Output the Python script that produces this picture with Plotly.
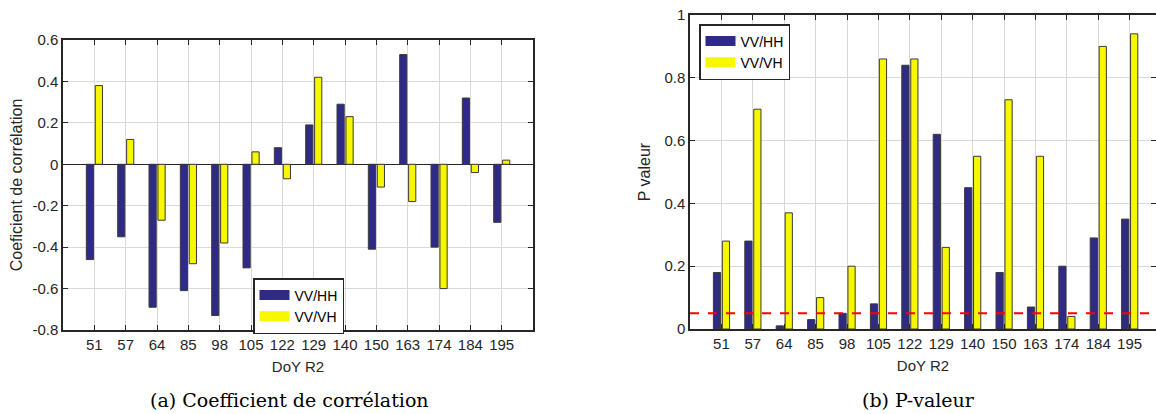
import plotly.graph_objects as go

# ---- data ----
doy = ["51", "57", "64", "85", "98", "105", "122", "129", "140", "150", "163", "174", "184", "195"]
corr_vv_hh = [-0.46, -0.35, -0.69, -0.61, -0.73, -0.50, 0.08, 0.19, 0.29, -0.41, 0.53, -0.40, 0.32, -0.28]
corr_vv_vh = [0.38, 0.12, -0.27, -0.48, -0.38, 0.06, -0.07, 0.42, 0.23, -0.11, -0.18, -0.60, -0.04, 0.02]
p_vv_hh = [0.18, 0.28, 0.01, 0.03, 0.05, 0.08, 0.84, 0.62, 0.45, 0.18, 0.07, 0.20, 0.29, 0.35]
p_vv_vh = [0.28, 0.70, 0.37, 0.10, 0.20, 0.86, 0.86, 0.26, 0.55, 0.73, 0.55, 0.04, 0.90, 0.94]
p_threshold = 0.05
series_names = ["VV/HH", "VV/VH"]
corr_ticks = [-0.8, -0.6, -0.4, -0.2, 0, 0.2, 0.4, 0.6]
corr_ticktext = ["-0.8", "-0.6", "-0.4", "-0.2", "0", "0.2", "0.4", "0.6"]
p_ticks = [0, 0.2, 0.4, 0.6, 0.8, 1]
p_ticktext = ["0", "0.2", "0.4", "0.6", "0.8", "1"]
x_title = "DoY R2"
y_title_left = "Coeficient de corrélation"
y_title_right = "P valeur"
caption_left = "(a) Coefficient de corrélation"
caption_right = "(b) P-valeur"

pos = list(range(1, len(doy) + 1))
BLUE = "#2e2a86"
YELLOW = "#f7f700"
EDGE = "#3a3a3a"
AXC = "#262626"
GRID = "#d9d9d9"
FONT = "Liberation Sans"
colors = [BLUE, YELLOW]

fig = go.Figure()

def add_bars(xa, ya, v1, v2, legend):
    fig.add_trace(go.Bar(x=pos, y=v1, name=series_names[0], width=0.23, offset=-0.255,
                         marker=dict(color=BLUE, line=dict(color=EDGE, width=1)),
                         xaxis=xa, yaxis=ya, showlegend=False))
    fig.add_trace(go.Bar(x=pos, y=v2, name=series_names[1], width=0.23, offset=0.03,
                         marker=dict(color=YELLOW, line=dict(color=EDGE, width=1)),
                         xaxis=xa, yaxis=ya, showlegend=False))
    # legend-only entries with wide rectangular swatches
    for name, c in zip(series_names, colors):
        fig.add_trace(go.Scatter(x=[None], y=[None], mode="lines", name=name,
                                 line=dict(color=c, width=13),
                                 xaxis=xa, yaxis=ya, legend=legend))

add_bars("x", "y", corr_vv_hh, corr_vv_vh, "legend")
add_bars("x2", "y2", p_vv_hh, p_vv_vh, "legend2")

W, H = 1156, 414
def px_x(v): return v / W
def px_y(v): return 1 - v / H

axis_common = dict(showline=True, linecolor=AXC, linewidth=1.5, mirror="ticks",
                   ticks="inside", ticklen=5, tickcolor=AXC, showgrid=True,
                   gridcolor=GRID, gridwidth=1, zeroline=False, automargin=False,
                   tickfont=dict(family=FONT, size=15, color=AXC))

legend_common = dict(xanchor="left", yanchor="top", bordercolor=AXC, borderwidth=1.5,
                     bgcolor="white", font=dict(family=FONT, size=14, color="black"),
                     tracegroupgap=0, itemwidth=30)

fig.update_layout(
    width=W, height=H, autosize=False, margin=dict(l=0, r=0, t=0, b=0, pad=0),
    paper_bgcolor="white", plot_bgcolor="white",
    barmode="overlay", showlegend=True,
    font=dict(family=FONT, size=15, color=AXC),
    xaxis=dict(axis_common, domain=[px_x(63), px_x(533)], range=[0, 15],
               tickvals=pos, ticktext=doy, anchor="y",
               title=dict(text=x_title, standoff=10, font=dict(size=15))),
    yaxis=dict(axis_common, domain=[px_y(330), px_y(40)], range=[-0.8, 0.6],
               tickvals=corr_ticks, ticktext=corr_ticktext, anchor="x",
               zeroline=True, zerolinecolor=AXC, zerolinewidth=1,
               title=dict(text=y_title_left, standoff=6, font=dict(size=16))),
    xaxis2=dict(axis_common, domain=[px_x(690), 1.0], range=[0, 14.84],
                tickvals=pos, ticktext=doy, anchor="y2",
                title=dict(text=x_title, standoff=10, font=dict(size=15))),
    yaxis2=dict(axis_common, domain=[px_y(329), px_y(15)], range=[0, 1],
                tickvals=p_ticks, ticktext=p_ticktext, anchor="x2",
                title=dict(text=y_title_right, standoff=10, font=dict(size=16))),
    legend=dict(legend_common, x=px_x(253), y=px_y(278)),
    legend2=dict(legend_common, x=px_x(699), y=px_y(24)),
    shapes=[dict(type="line", xref="x2 domain", yref="y2", x0=0, x1=1,
                 y0=p_threshold, y1=p_threshold,
                 line=dict(color="#ff0000", width=2, dash="dash"))],
    annotations=[
        dict(text=caption_left, xref="paper", yref="paper", x=px_x(289), y=px_y(400),
             xanchor="center", yanchor="middle", showarrow=False,
             font=dict(family="DejaVu Serif", size=19, color="black")),
        dict(text=caption_right, xref="paper", yref="paper", x=px_x(918), y=px_y(400),
             xanchor="center", yanchor="middle", showarrow=False,
             font=dict(family="DejaVu Serif", size=19, color="black")),
    ],
)

page_fix = (
    "document.documentElement.style.margin='0';"
    "document.documentElement.style.padding='0';"
    "document.documentElement.style.overflow='hidden';"
    "document.body.style.margin='0';"
    "document.body.style.padding='0';"
    "document.body.style.overflow='hidden';"
)
fig.write_html("out.html", config={"displayModeBar": False}, post_script=page_fix)
